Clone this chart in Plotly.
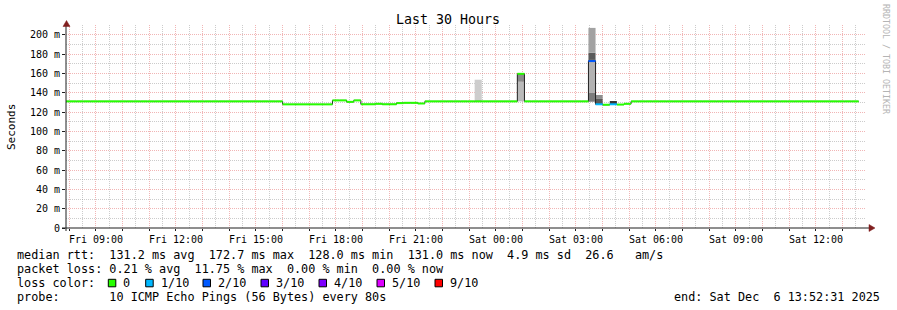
import plotly.graph_objects as go
from datetime import datetime, timedelta

# ---------------- data ----------------
title_text = "Last 30 Hours"
y_title = "Seconds"
watermark = "RRDTOOL / TOBI OETIKER"
end_time = datetime(2025, 12, 6, 13, 52, 31)
start_time = end_time - timedelta(hours=30)
first_bin = datetime(2025, 12, 5, 7, 44)
bin_minutes = 16

# median rtt (ms) as runs of consecutive 16-minute bins
run_lengths = [31, 7, 2, 1, 1, 2, 1, 2, 1, 2, 1, 13, 1, 9, 1, 1, 1, 1, 1, 1, 32]
run_median_ms = [131.0, 127.9, 132.0, 130.5, 132.0, 128.0, 128.5, 128.0, 129.2, 129.5,
                 128.8, 131.0, 159.5, 131.0, 172.7, 128.0, 127.5, 128.0, 127.7, 128.5, 131.0]
run_loss = [0, 0, 0, 0, 0, 0, 0, 0, 0, 0, 0, 0, 0, 0, 2, 1, 0, 1, 0, 0, 0]

# smoke (ping spread) bands: bin index, low, high (ms), shade
smoke_bin = [58, 64, 64, 74, 74, 74, 74, 74, 75, 75, 77]
smoke_lo = [131.0, 131.0, 151.3, 130.6, 139.7, 172.7, 174.5, 181.3, 128.0, 133.5, 128.0]
smoke_hi = [153.4, 151.3, 159.5, 139.7, 172.7, 174.5, 181.3, 207.0, 133.5, 137.6, 131.4]
smoke_shade = ["#cdcdcd", "#bababa", "#8a8a8a", "#7c7c7c", "#b2b2b2", "#303030",
               "#5a5a5a", "#a2a2a2", "#5a5a5a", "#8e8e8e", "#383838"]

loss_labels = ["0", "1/10", "2/10", "3/10", "4/10", "5/10", "9/10"]
loss_colors = ["#26ff00", "#00b8ff", "#0059ff", "#5e00ff", "#7e00ff", "#dd00ff", "#ff0000"]

y_ticks = [0, 20, 40, 60, 80, 100, 120, 140, 160, 180, 200]
y_minor = [10, 30, 50, 70, 90, 110, 130, 150, 170, 190]

legend_rtt = "median rtt:  131.2 ms avg  172.7 ms max  128.0 ms min  131.0 ms now  4.9 ms sd  26.6   am/s"
legend_loss = "packet loss: 0.21 % avg  11.75 % max  0.00 % min  0.00 % now"
legend_color = "loss color:"
legend_probe = "probe:       10 ICMP Echo Pings (56 Bytes) every 80s"
legend_end = "end: Sat Dec  6 13:52:31 2025"

# ---------------- layout constants ----------------
W, H = 897, 310
L, R, T, B = 66, 31, 25, 82
PW, PH = W - L - R, H - T - B
MONO = "DejaVu Sans Mono"
MAJOR_GRID = "rgba(222,79,79,0.42)"
MINOR_GRID = "rgba(143,143,143,0.45)"
ARROW = "#801f1f"
AXIS = "#1f1f1f"


def fx(px):
    return (px - L) / PW


def fy(py):
    return (H - B - py) / PH


def ts(d):
    return d.strftime("%Y-%m-%d %H:%M:%S")


# expand runs into bins
medians, losses = [], []
for n, v, l in zip(run_lengths, run_median_ms, run_loss):
    medians += [v] * n
    losses += [l] * n
step = timedelta(minutes=bin_minutes)
bin_starts = [first_bin + i * step for i in range(len(medians))]
bin_ends = [b + step for b in bin_starts]

fig = go.Figure()

# smoke
fig.add_trace(go.Bar(
    x=[ts(bin_starts[i] + step / 2) for i in smoke_bin],
    y=[h - l for l, h in zip(smoke_lo, smoke_hi)],
    base=smoke_lo,
    width=[step.total_seconds() * 1000] * len(smoke_bin),
    marker=dict(color=smoke_shade, line=dict(width=0)),
    hoverinfo="skip", showlegend=False,
))

# dark median connector line
fig.add_trace(go.Scatter(
    x=[ts(b) for b in bin_starts] + [ts(bin_ends[-1])],
    y=medians + [medians[-1]],
    mode="lines", line=dict(color="#202020", width=1, shape="hv"),
    hoverinfo="skip", showlegend=False,
))

# coloured median segments by loss
loss_index = {0: 0, 1: 1, 2: 2, 3: 3, 4: 4, 5: 5, 9: 6}
for lvl in sorted(set(losses)):
    xs, ys = [], []
    for b, e, m, l in zip(bin_starts, bin_ends, medians, losses):
        if l == lvl:
            xs += [ts(b), ts(e), None]
            ys += [m, m, None]
    fig.add_trace(go.Scatter(
        x=xs, y=ys, mode="lines",
        line=dict(color=loss_colors[loss_index[lvl]], width=2),
        hoverinfo="skip", showlegend=False, connectgaps=False,
    ))

# x ticks: every hour (major grid), labels every 3 hours
hour_ticks, hour_text, half_ticks = [], [], []
t = datetime(2025, 12, 5, 8, 0)
while t <= end_time:
    hour_ticks.append(ts(t))
    hour_text.append(t.strftime("%a %H:%M") if t.hour % 3 == 0 else "")
    if t + timedelta(minutes=30) <= end_time:
        half_ticks.append(ts(t + timedelta(minutes=30)))
    t += timedelta(hours=1)

fig.update_layout(
    width=W, height=H,
    margin=dict(l=L, r=R, t=T, b=B, pad=0),
    paper_bgcolor="white", plot_bgcolor="white",
    barmode="overlay", showlegend=False,
    xaxis=dict(
        type="date", range=[ts(start_time), ts(end_time)],
        tickmode="array", tickvals=hour_ticks, ticktext=hour_text,
        showgrid=True, gridcolor=MAJOR_GRID, griddash="1px,1px", gridwidth=1,
        minor=dict(tickmode="array", tickvals=half_ticks, showgrid=True,
                   gridcolor=MINOR_GRID, griddash="1px,1px", gridwidth=1),
        ticks="outside", ticklen=2, tickcolor=AXIS,
        tickfont=dict(family=MONO, size=10, color="black"),
        showline=False, zeroline=False, fixedrange=True,
    ),
    yaxis=dict(
        range=[0, 210],
        tickmode="array", tickvals=y_ticks,
        ticktext=[("%d m" % v) if v else "0" for v in y_ticks],
        showgrid=True, gridcolor=MAJOR_GRID, griddash="1px,1px", gridwidth=1,
        minor=dict(tickmode="array", tickvals=y_minor, showgrid=True,
                   gridcolor=MINOR_GRID, griddash="1px,1px", gridwidth=1),
        ticks="outside", ticklen=3, tickcolor=AXIS,
        tickfont=dict(family=MONO, size=10, color="black"),
        showline=False, zeroline=False, fixedrange=True,
    ),
)

shapes = [
    # axes
    dict(type="line", xref="paper", yref="paper", x0=fx(62), x1=fx(869), y0=0, y1=0,
         line=dict(color=AXIS, width=1)),
    dict(type="line", xref="paper", yref="paper", x0=0, x1=0, y0=fy(231), y1=fy(26),
         line=dict(color=AXIS, width=1)),
    # arrows
    dict(type="path", xref="paper", yref="paper",
         path="M%f,%f L%f,%f L%f,%f Z" % (fx(63), fy(26.5), fx(66.5), fy(20.5), fx(70), fy(26.5)),
         fillcolor=ARROW, line=dict(color=ARROW, width=0.5)),
    dict(type="path", xref="paper", yref="paper",
         path="M%f,%f L%f,%f L%f,%f Z" % (fx(869), fy(224.5), fx(875), fy(228), fx(869), fy(231.5)),
         fillcolor=ARROW, line=dict(color=ARROW, width=0.5)),
]

annotations = []


def add_text(text, px, py, size=11.8, xanchor="left", color="black", angle=0):
    annotations.append(dict(
        text=text.replace(" ", "\u00a0"), x=fx(px), y=fy(py), xref="paper", yref="paper",
        xanchor=xanchor, yanchor="middle", showarrow=False, textangle=angle,
        font=dict(family=MONO, size=size, color=color), borderpad=0,
    ))


add_text(title_text, 448, 19, size=13.3, xanchor="center")
add_text(y_title, 11, 127, size=11, xanchor="center", angle=-90)
add_text(watermark, 886, 59, size=8.3, xanchor="center", color="#b4b4b4", angle=90)
add_text(legend_rtt, 16, 255)
add_text(legend_loss, 16, 268.5)
add_text(legend_color, 16, 282.7)
add_text(legend_probe, 16, 296.7)
add_text(legend_end, 881, 296.7, xanchor="right")

box_left_px = [108.3, 145.7, 203, 261, 319, 377, 435]
for bx, lab, col in zip(box_left_px, loss_labels, loss_colors):
    shapes.append(dict(type="rect", xref="paper", yref="paper",
                       x0=fx(bx), x1=fx(bx + 7.5), y0=fy(286.8), y1=fy(279.3),
                       fillcolor=col, line=dict(color="black", width=1)))
    add_text(lab, bx + 14, 282.7)

fig.update_layout(shapes=shapes, annotations=annotations)
fig.write_html("out.html")
